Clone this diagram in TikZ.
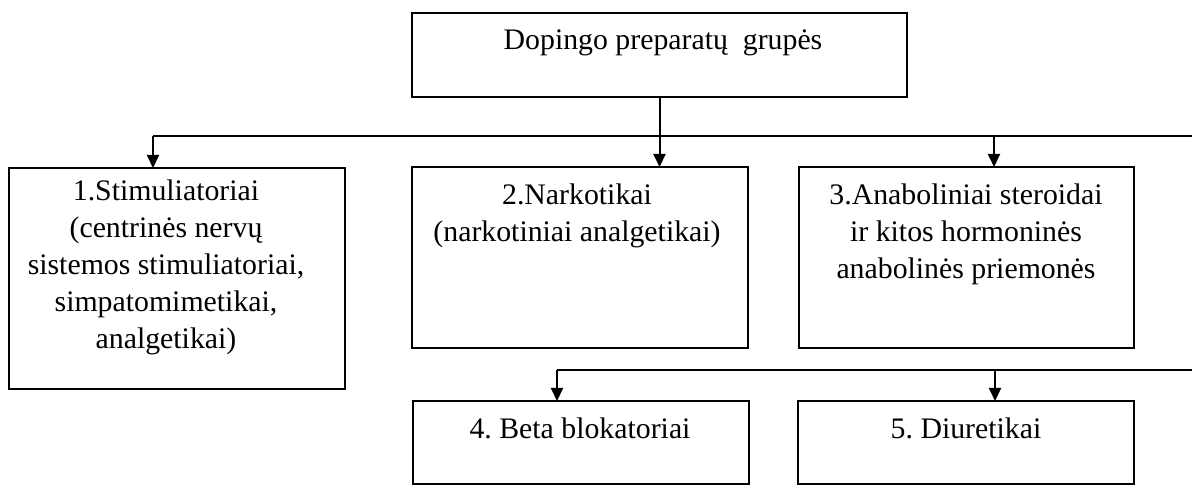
\documentclass[tikz,border=0pt]{standalone}
\usepackage{fontspec}
\setmainfont{Liberation Serif}
\usetikzlibrary{arrows.meta}
\frenchspacing
\begin{document}
\tikzset{
  box/.style={draw, line width=0.65pt, inner sep=0pt, outer sep=0pt, anchor=north west},
  txt/.style={font=\fontsize{14.9}{18.5}\selectfont, align=center, inner sep=0pt, anchor=base},
  conn/.style={line width=1pt},
  arr/.style={line width=1pt, -{Triangle[width=6pt,length=6.5pt]}}
}
\begin{tikzpicture}[x=0.5pt,y=-0.5pt]
\useasboundingbox (0,0) rectangle (1192,485);
% boxes
\node[box, minimum width=247.5pt, minimum height=42pt] (top) at (412,13) {};
\node[box, minimum width=168pt, minimum height=110.5pt] (b1) at (9,168) {};
\node[box, minimum width=168pt, minimum height=90.5pt] (b2) at (412,167) {};
\node[box, minimum width=167.5pt, minimum height=90.5pt] (b3) at (799,167) {};
\node[box, minimum width=168pt, minimum height=41.5pt] (b4) at (413,401) {};
\node[box, minimum width=168pt, minimum height=41.5pt] (b5) at (798,401) {};
% texts (anchor = baseline of last line)
\node[txt] (ttop) at (663,50) {Dopingo preparatų\ \ grupės};
\node[txt] (t1) at (166,349) {1.Stimuliatoriai\\(centrinės nervų\\sistemos stimuliatoriai,\\simpatomimetikai,\\analgetikai)};
\node[txt] (t2) at (577,242) {2.Narkotikai\\(narkotiniai analgetikai)};
\node[txt] (t3) at (966,279) {3.Anaboliniai steroidai\\ir kitos hormoninės\\anabolinės priemonės};
\node[txt] (t4) at (580,438) {4. Beta blokatoriai};
\node[txt] (t5) at (966,438) {5. Diuretikai};
% junction coordinates
\coordinate (jl) at (153,136);
\coordinate (jm) at (top.south |- jl);
\coordinate (j3) at (994,136);
\coordinate (jr) at (1192,136);
\coordinate (kl) at (557,370);
\coordinate (k5) at (995,370);
\coordinate (kr) at (1192,370);
% connectors
\draw[conn] (top.south) -- (jm);
\draw[conn] (jl) -- (jr);
\draw[arr] (jl) -- (jl |- b1.north);
\draw[arr] (jm) -- (jm |- b2.north);
\draw[arr] (j3) -- (j3 |- b3.north);
\draw[conn] (kl) -- (kr);
\draw[arr] (kl) -- (kl |- b4.north);
\draw[arr] (k5) -- (k5 |- b5.north);
\end{tikzpicture}
\end{document}
